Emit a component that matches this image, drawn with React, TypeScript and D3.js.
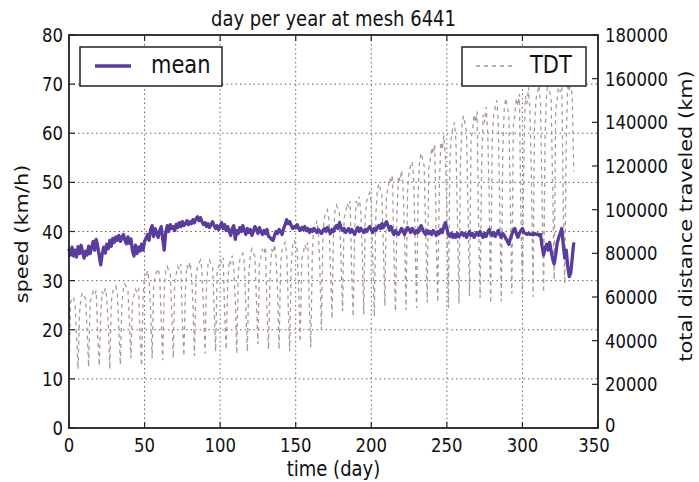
import React from 'react';
import * as d3 from 'd3';

// mean speed per day (km/h), day 0..334
const meanSpeed = [
  36.5, 35.2, 36.8, 35.0, 36.2, 34.8, 36.9, 35.5, 37.2, 35.8,
  34.6, 36.0, 35.2, 37.0, 35.5, 36.8, 38.0, 36.2, 38.4, 37.0,
  35.0, 33.2, 35.5, 36.8, 35.6, 37.4, 36.5, 38.2, 37.0, 38.6,
  37.8, 38.9, 38.2, 39.2, 38.0, 38.8, 39.4, 38.2, 37.5, 38.9,
  37.6, 38.5, 36.0, 35.0, 37.2, 35.5, 36.8, 36.0, 37.4, 36.2,
  38.0, 38.6, 39.4, 38.2, 40.4, 41.2, 39.0, 40.6, 39.8, 38.8,
  40.2, 41.0, 38.5, 36.2, 39.8, 41.2, 40.0, 41.4, 40.6, 41.0,
  40.2, 41.5, 40.8, 41.8, 41.0, 42.0, 41.2, 41.6, 42.2, 41.4,
  42.0, 41.6, 42.4, 41.8, 42.6, 43.0, 42.2, 42.8, 42.0, 41.4,
  41.8, 41.0, 41.6, 40.8, 41.4, 42.0, 41.2, 40.6, 41.2, 40.4,
  41.0, 41.8, 40.6, 41.4, 40.2, 41.0, 40.0, 39.2, 40.6, 41.2,
  38.4, 40.2, 39.6, 40.8, 40.0, 41.2, 40.2, 39.4, 40.6, 39.8,
  40.4, 39.2, 40.0, 41.0, 40.4, 39.6, 40.8, 40.0, 39.4, 40.2,
  39.6, 40.4, 39.0, 38.8, 38.4, 38.2, 39.2, 40.0, 39.6, 40.4,
  40.0, 39.4, 40.6, 41.4, 42.4, 41.6, 42.0, 41.2, 40.6, 41.0,
  40.8, 41.4, 40.6, 40.2, 40.8, 40.4, 41.0, 40.2, 40.6, 39.8,
  40.4, 40.0, 40.6, 40.2, 39.8, 40.4, 40.0, 39.6, 40.2, 40.6,
  40.0, 40.8, 40.2, 39.6, 40.4, 40.0, 40.8, 41.2, 40.6, 41.8,
  40.8, 40.2, 40.6, 39.8, 40.2, 40.6, 39.8, 40.4, 40.0, 39.4,
  40.2, 40.8, 40.0, 40.6, 40.2, 39.8, 40.4, 40.0, 40.6, 41.0,
  40.4, 39.8, 40.6, 40.2, 40.8, 41.2, 40.6, 41.6, 40.8, 41.4,
  42.0, 41.2, 40.4, 41.0, 40.0, 39.4, 40.2, 39.6, 39.4, 40.0,
  40.6, 40.0, 39.4, 40.2, 40.8, 40.4, 39.8, 40.6, 40.0, 39.6,
  40.2, 39.8, 40.6, 41.2, 40.4, 39.8, 39.4, 40.2, 39.6, 40.0,
  39.4, 40.2, 39.8, 39.2, 40.0, 39.6, 40.4, 39.8, 41.0, 41.8,
  40.6, 39.4, 39.0, 39.6, 38.8, 39.4, 38.8, 39.6, 39.0, 39.4,
  39.8, 39.2, 39.6, 38.8, 39.4, 40.0, 39.2, 39.6, 38.8, 39.4,
  39.8, 39.2, 40.0, 39.4, 38.8, 39.6, 39.0, 39.8, 40.4, 39.6,
  39.2, 39.8, 39.0, 39.6, 40.2, 39.4, 38.8, 39.6, 39.2, 38.6,
  38.0, 37.4, 38.6, 39.4, 40.2, 40.6, 39.6, 38.8, 39.6, 40.2,
  40.6, 39.8, 39.6, 39.4, 39.6, 39.4, 39.5, 39.3, 39.6, 39.4,
  39.5, 39.2, 39.4, 37.0, 35.2, 36.6, 37.4, 36.2, 37.8, 36.0,
  34.4, 33.4, 35.2, 37.6, 38.8, 39.6, 40.6, 37.4, 34.6, 36.2,
  32.8, 30.8, 31.6, 34.8, 37.8,
];

// total distance traveled per day (km), one row per week
const tdt = [
  24000, 57500, 59000, 60000, 56500, 42000, 27000,
  53000, 60000, 62000, 60500, 59000, 44000, 28000,
  58000, 59500, 62500, 61000, 63000, 42000, 28500,
  53000, 62500, 61000, 64000, 59500, 47500, 27000,
  58000, 62500, 64000, 65000, 61500, 45000, 29000,
  57000, 64000, 66000, 64500, 63000, 48000, 32000,
  58500, 60500, 63500, 62000, 64000, 42500, 28500,
  60000, 70500, 69000, 72000, 67000, 54000, 32000,
  64500, 70000, 71500, 73000, 69000, 50000, 31000,
  63000, 72000, 74000, 72000, 70500, 52000, 32000,
  68500, 70500, 74000, 72500, 75000, 49000, 33000,
  63000, 74500, 72500, 76000, 71000, 56500, 33000,
  68500, 74000, 75500, 77000, 72500, 53500, 34000,
  66000, 75000, 77000, 75000, 73500, 55000, 35000,
  71500, 73500, 77000, 75500, 78000, 52000, 36000,
  65500, 77000, 75500, 79000, 73500, 59000, 34000,
  71000, 77000, 78500, 80000, 75500, 55000, 35000,
  70500, 79500, 82000, 80000, 78500, 59000, 38500,
  76000, 78000, 82000, 80000, 83000, 54000, 36000,
  69500, 82000, 80000, 84000, 78000, 62500, 36000,
  75000, 81500, 83500, 85000, 80000, 57500, 35000,
  74000, 83500, 86000, 84000, 82000, 61500, 39500,
  77500, 80000, 84000, 82000, 85000, 55500, 37000,
  80000, 93000, 91000, 95000, 89000, 72500, 45000,
  90000, 96500, 98500, 100000, 95000, 72500, 50000,
  89000, 99500, 102000, 100000, 98000, 76500, 53500,
  96000, 98500, 103000, 101000, 104000, 71500, 51000,
  90000, 104000, 101500, 106000, 99500, 81500, 52000,
  96500, 104000, 106500, 108000, 102500, 76500, 51000,
  97500, 109000, 112000, 109500, 107500, 82500, 56000,
  106500, 109500, 114500, 112000, 116000, 77500, 53500,
  99000, 115500, 113000, 118000, 110500, 89000, 54000,
  108500, 117500, 120000, 122000, 115500, 85000, 55000,
  108000, 122500, 126000, 123000, 120000, 90000, 57500,
  119000, 122500, 128500, 125500, 130000, 85500, 57500,
  110500, 131000, 127500, 134000, 124500, 98500, 55000,
  123500, 134000, 137500, 140000, 131500, 94500, 57000,
  121500, 138500, 143000, 139500, 136000, 99500, 60500,
  132000, 136500, 143500, 140000, 145000, 93000, 59500,
  120000, 143500, 140000, 147000, 136000, 106500, 57000,
  131500, 143500, 147000, 150000, 141000, 99500, 58000,
  127500, 146500, 151000, 147000, 143500, 104000, 61500,
  139000, 143500, 151000, 147500, 153000, 96500, 61000,
  127000, 152000, 148500, 156000, 144500, 113000, 60000,
  138000, 150500, 154000, 157000, 147500, 105000, 62000,
  134000, 153500, 158000, 154000, 150500, 110500, 68000,
  145500, 150500, 158000, 154000, 160000, 102500, 66000,
  132500, 158000, 154000, 162000, 150000, 117500,
];

const xTicks = [0, 50, 100, 150, 200, 250, 300, 350];
const speedTicks = [0, 10, 20, 30, 40, 50, 60, 70, 80];
const distTicks = [0, 20000, 40000, 60000, 80000, 100000, 120000, 140000, 160000, 180000];

const W = 699;
const H = 482;
const margin = { top: 35, right: 101, bottom: 54, left: 69 };
const STRETCH = 1.16;
const FONT = 'DejaVu Sans, sans-serif';
const PURPLE = '#5a3b9e';
const TDT_COLOR = '#aa9a94';

const Txt = ({ x, y, size, anchor = 'middle', rotate = 0, children }) => (
  <text
    transform={rotate
      ? `translate(${x},${y}) rotate(${rotate}) scale(${STRETCH},1)`
      : `translate(${x},${y}) scale(1,${STRETCH})`}
    fontSize={size}
    fontFamily={FONT}
    textAnchor={anchor}
    fill="#111"
  >
    {children}
  </text>
);

const App = () => {
  const x = d3.scaleLinear().domain([0, 350]).range([margin.left, W - margin.right]);
  const y = d3.scaleLinear().domain([0, 80]).range([H - margin.bottom, margin.top]);
  const y2 = d3.scaleLinear().domain([0, 180000]).range([H - margin.bottom, margin.top]);

  const meanLine = d3.line<number>()
    .x((d, i) => x(i))
    .y(d => y(d));

  const tdtLine = d3.line<number>()
    .x((d, i) => x(i))
    .y(d => y2(d));

  const left = margin.left;
  const right = W - margin.right;
  const top = margin.top;
  const bottom = H - margin.bottom;

  return (
    <svg width={W} height={H} style={{ position: 'absolute', left: 0, top: 0, background: '#fff' }}>
      <rect x={0} y={0} width={W} height={H} fill="#fff" />

      {/* grid */}
      <g stroke="#666" strokeWidth={1} strokeDasharray="1.5,3">
        {xTicks.slice(1, -1).map(t => (
          <line key={'gx' + t} x1={x(t)} x2={x(t)} y1={top} y2={bottom} />
        ))}
        {speedTicks.slice(1, -1).map(t => (
          <line key={'gy' + t} x1={left} x2={right} y1={y(t)} y2={y(t)} />
        ))}
      </g>

      <path d={tdtLine(tdt)} fill="none" stroke={TDT_COLOR} strokeWidth={1.3} strokeDasharray="4,4" />
      <path d={meanLine(meanSpeed)} fill="none" stroke={PURPLE} strokeWidth={3.3} strokeLinejoin="round" />

      {/* frame */}
      <rect x={left} y={top} width={right - left} height={bottom - top} fill="none" stroke="#222" strokeWidth={1.8} />

      {/* ticks */}
      <g stroke="#222" strokeWidth={1.2}>
        {xTicks.map(t => (
          <g key={'tx' + t}>
            <line x1={x(t)} x2={x(t)} y1={bottom} y2={bottom - 6} />
            <line x1={x(t)} x2={x(t)} y1={top} y2={top + 6} />
          </g>
        ))}
        {speedTicks.map(t => (
          <line key={'ty' + t} x1={left} x2={left + 6} y1={y(t)} y2={y(t)} />
        ))}
        {distTicks.map(t => (
          <line key={'ty2' + t} x1={right} x2={right - 6} y1={y2(t)} y2={y2(t)} />
        ))}
      </g>

      {/* tick labels */}
      {xTicks.map(t => (
        <Txt key={'lx' + t} x={x(t) - (t === 350 ? 4 : 0)} y={bottom + 24} size={16.5}>{t}</Txt>
      ))}
      {speedTicks.map(t => (
        <Txt key={'ly' + t} x={left - 6} y={y(t) + 7} size={16.5} anchor="end">{t}</Txt>
      ))}
      {distTicks.map(t => (
        <Txt key={'ly2' + t} x={right + 7} y={y2(t) + (t === 0 ? 4 : 7)} size={16.5} anchor="start">{t}</Txt>
      ))}

      {/* titles */}
      <Txt x={(left + right) / 2} y={26} size={18}>day per year at mesh 6441</Txt>
      <Txt x={(left + right) / 2} y={476} size={18}>time (day)</Txt>
      <Txt x={28} y={234} size={18} rotate={-90}>speed (km/h)</Txt>
      <Txt x={692} y={216} size={18} rotate={-90}>total distance traveled (km)</Txt>

      {/* legends */}
      <rect x={80} y={47} width={142} height={39} fill="#fff" stroke="#222" strokeWidth={1.5} />
      <line x1={95} x2={131} y1={66} y2={66} stroke={PURPLE} strokeWidth={3.3} />
      <Txt x={151} y={73} size={21} anchor="start">mean</Txt>

      <rect x={462} y={47} width={124} height={39} fill="#fff" stroke="#222" strokeWidth={1.5} />
      <line x1={476} x2={512} y1={66} y2={66} stroke={TDT_COLOR} strokeWidth={1.3} strokeDasharray="4,4" />
      <Txt x={530} y={73} size={21} anchor="start">TDT</Txt>
    </svg>
  );
};

export default App;
